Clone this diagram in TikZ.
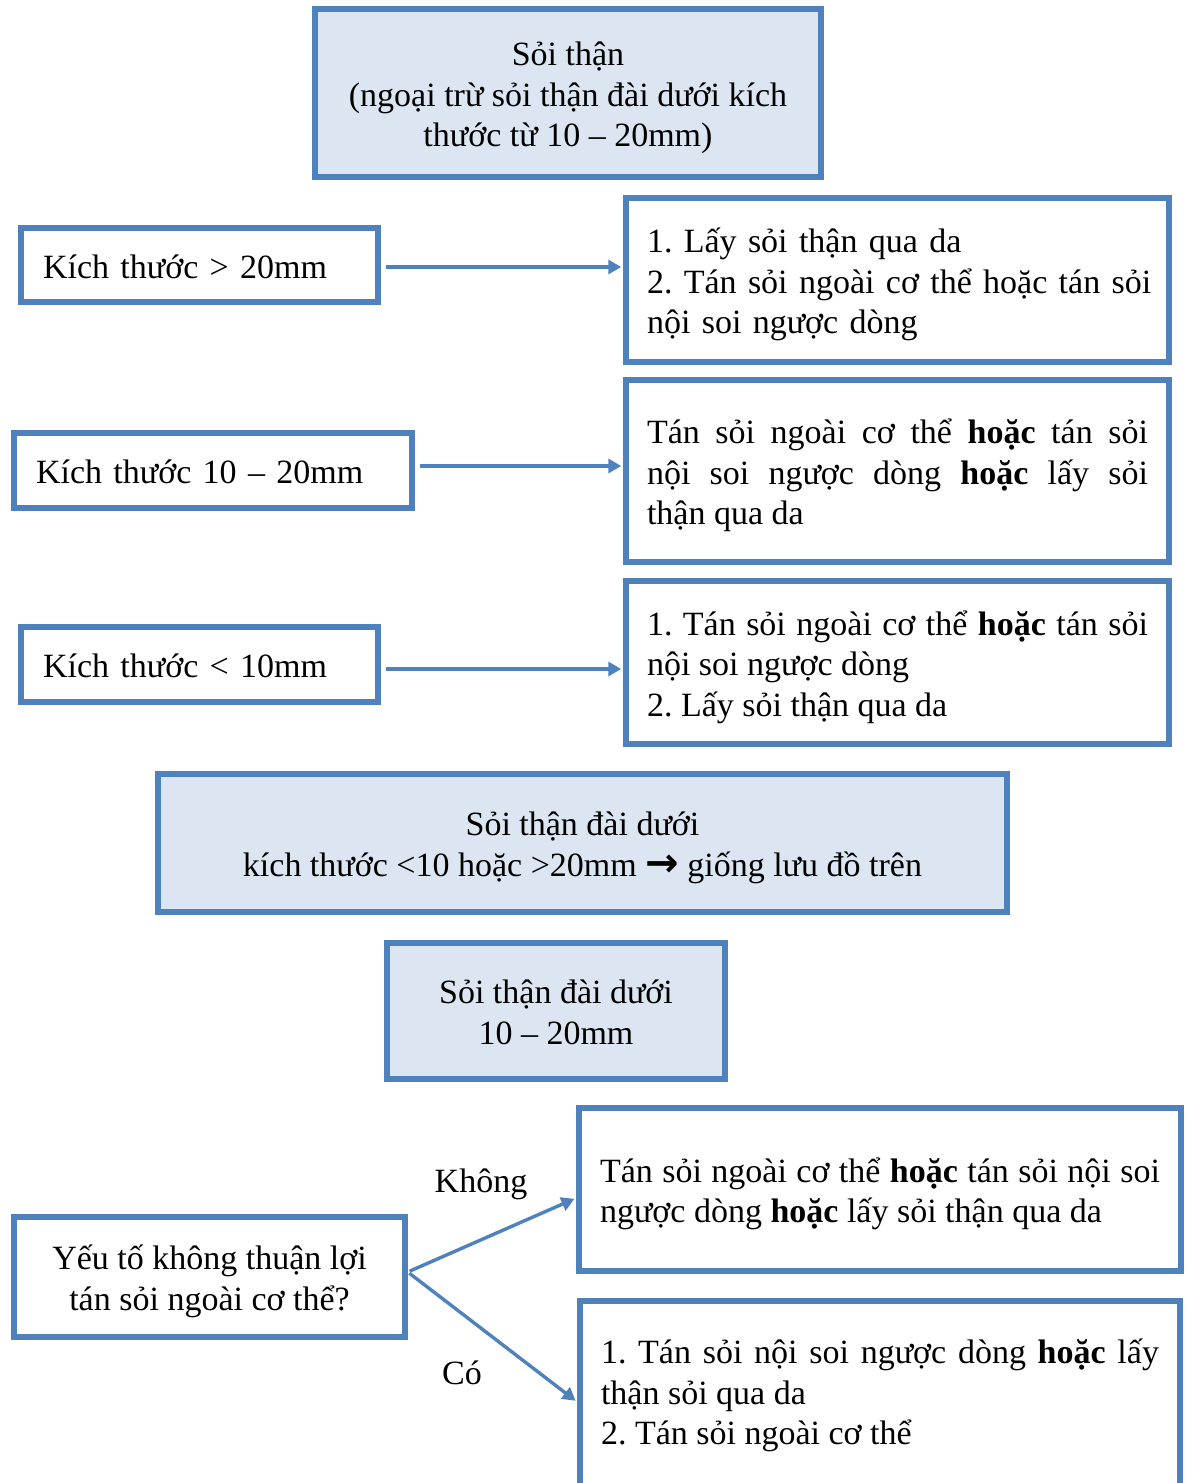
\documentclass[tikz,border=0pt]{standalone}
\usepackage{fontspec}
\setmainfont{Liberation Serif}
\newfontfamily\arrowfont{DejaVu Sans}
\usetikzlibrary{arrows.meta,calc}
\definecolor{bord}{HTML}{4F81BD}
\definecolor{fillb}{HTML}{DCE6F2}
\frenchspacing
\begin{document}
\begin{tikzpicture}[x=1pt,y=-1pt,
  box/.style={draw=bord,line width=5.5pt,rectangle,inner sep=0pt,
    font=\fontsize{34}{40.5}\selectfont\frenchspacing,text height=31pt},
  one/.style={text depth=5pt},
  two/.style={text depth=45.5pt},
  three/.style={text depth=86pt},
  ctwo/.style={text height=71.5pt,text depth=5pt},
  cthree/.style={text height=112pt,text depth=5pt},
  shaded/.style={box,fill=fillb,align=center},
  leftbox/.style={box,align=left},
  resbox/.style={box,align=justify},
  conn/.style={draw=bord,line width=3.4pt,-{Triangle[length=13pt,width=14pt]}},
  lbl/.style={inner sep=0pt,font=\fontsize{34}{40.5}\selectfont}]
\useasboundingbox (0,0) rectangle (1186,1483);

\node[shaded,cthree,minimum width=506pt,minimum height=168pt] (top) at (568,93)
  {Sỏi thận\\(ngoại trừ sỏi thận đài dưới kích\\thước từ 10 – 20mm)};

\node[leftbox,one,minimum width=357pt,minimum height=74pt,text width=313pt] (a) at (199.5,265)
  {Kích thước > 20mm};
\node[box,three,align=left,minimum width=543pt,minimum height=164pt,text width=501pt] (ra) at (897.5,280)
  {1. Lấy sỏi thận qua da\\\mbox{2. Tán sỏi ngoài cơ thể hoặc tán sỏi}\\nội soi ngược dòng};

\node[leftbox,one,minimum width=398pt,minimum height=75pt,text width=354pt] (b) at (213,470.5)
  {Kích thước 10 – 20mm};
\node[resbox,three,minimum width=543pt,minimum height=182pt,text width=501pt] (rb) at (897.5,471)
  {Tán sỏi ngoài cơ thể \textbf{hoặc} tán sỏi\linebreak nội soi ngược dòng \textbf{hoặc} lấy sỏi\linebreak thận qua da};

\node[leftbox,one,minimum width=357pt,minimum height=75pt,text width=313pt] (c) at (199.5,664.5)
  {Kích thước < 10mm};
\node[resbox,three,minimum width=543pt,minimum height=163pt,text width=501pt] (rc) at (897.5,662.5)
  {1. Tán sỏi ngoài cơ thể \textbf{hoặc} tán sỏi\linebreak nội soi ngược dòng\\2. Lấy sỏi thận qua da};

\node[shaded,ctwo,minimum width=849pt,minimum height=138pt] (mid) at (582.5,843)
  {Sỏi thận đài dưới\\kích thước <10 hoặc >20mm {\arrowfont\bfseries\fontsize{40}{40.5}\selectfont →} giống lưu đồ trên};

\node[shaded,ctwo,minimum width=338pt,minimum height=136pt] (d) at (556,1011)
  {Sỏi thận đài dưới\\10 – 20mm};

\node[box,ctwo,align=center,minimum width=391pt,minimum height=120pt] (q) at (209.5,1277)
  {Yếu tố không thuận lợi\\tán sỏi ngoài cơ thể?};

\node[resbox,two,minimum width=602pt,minimum height=163pt,text width=560pt] (re) at (880,1189.5)
  {Tán sỏi ngoài cơ thể \textbf{hoặc} tán sỏi nội soi\linebreak ngược dòng \textbf{hoặc} lấy sỏi thận qua da};

\node[resbox,minimum width=600pt,minimum height=194pt,text width=558pt,text depth=100pt] (rf) at (880,1398)
  {1. Tán sỏi nội soi ngược dòng \textbf{hoặc} lấy\linebreak thận sỏi qua da\\2. Tán sỏi ngoài cơ thể};

\node[lbl] (lk) at (481,1184) {Không};
\node[lbl] (lc) at (462,1373) {Có};

\draw[conn,shorten <=5pt,shorten >=2pt] ($(a.east)+(0,2)$) -- ($(a.east -| ra.west)+(0,2)$);
\draw[conn,shorten <=5pt,shorten >=2pt] ($(b.east)+(0,-4.5)$) -- ($(b.east -| rb.west)+(0,-4.5)$);
\draw[conn,shorten <=5pt,shorten >=2pt] ($(c.east)+(0,4.5)$) -- ($(c.east -| rc.west)+(0,4.5)$);
\draw[conn,shorten <=2pt,shorten >=2pt] ($(q.east)+(0,-5)$) -- ($(re.west)+(0,8.5)$);
\draw[conn,shorten <=2pt,shorten >=2pt] ($(q.east)+(0,-5)$) -- ($(rf.west)+(0,4)$);
\end{tikzpicture}
\end{document}
